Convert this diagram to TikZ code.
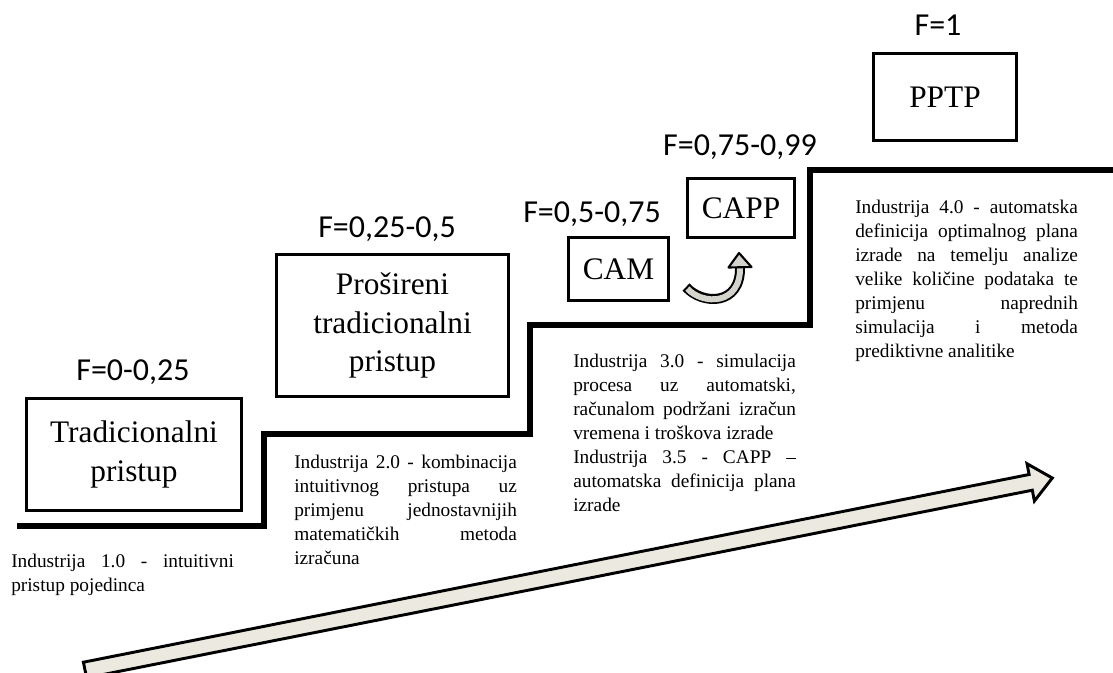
\documentclass[tikz,border=0pt]{standalone}
\usepackage{fontspec}
\setmainfont{Liberation Serif}
\newfontfamily\calib{Carlito}
\definecolor{arrowfill}{HTML}{ECEAE0}
\definecolor{curvefill}{HTML}{D4D4CC}
\begin{document}
\begin{tikzpicture}[x=0.75pt,y=-0.75pt,
  stairline/.style={line width=4.5pt},
  stagebox/.style={draw, line width=2.5pt, inner sep=0pt, align=center, font=\fontsize{23.5}{29}\selectfont},
  flabel/.style={font=\calib\fontsize{24}{28}\selectfont, anchor=base, inner sep=0pt},
  desc/.style={anchor=north west, inner sep=0pt, align=left, font=\fontsize{14.5}{18}\selectfont}]

\useasboundingbox (0,0) rectangle (1113,672);

% big rising arrow
\draw[line width=2.2pt, fill=arrowfill, line join=miter]
  (83.4,662.2) -- (1029.1,474.5) -- (1027.0,463.7) -- (1052.3,478.0)
  -- (1034.4,501.0) -- (1032.3,490.2) -- (86.6,677.8) -- cycle;

% staircase
\draw[stairline] (17,526) -- (264,526) -- (264,434) -- (530,434) -- (530,325)
  -- (810,325) -- (810,170) -- (1120,170);

% stage boxes
\node[stagebox, minimum width=161.25pt, minimum height=84pt] (trad) at (134,454.5) {Tradicionalni\\pristup};
\node[stagebox, minimum width=174pt, minimum height=106.5pt] (prosireni) at (392.5,325.5) {Prošireni\\tradicionalni\\pristup};
\node[stagebox, minimum width=75pt, minimum height=47.25pt] (cam) at (618.5,269) {CAM};
\node[stagebox, minimum width=80.25pt, minimum height=44.25pt] (capp) at (741,208) {CAPP};
\node[stagebox, minimum width=107.25pt, minimum height=65.25pt] (pptp) at (945,97) {PPTP};

% F labels
\node[flabel] (f1) at (133,380) {F=0-0,25};
\node[flabel] (f2) at (387,237) {F=0,25-0,5};
\node[flabel] (f3) at (592,222) {F=0,5-0,75};
\node[flabel] (f4) at (740,155) {F=0,75-0,99};
\node[flabel] (f5) at (938,35) {F=1};

% curved arrow CAM -> CAPP
\coordinate (cs) at (686,287);
\coordinate (ce) at (740,267);
\draw[line width=7.5pt] (cs) .. controls (702,305) and (741,306) .. (ce);
\draw[line width=4.5pt, curvefill, shorten <=1.6pt] (cs) .. controls (702,305) and (741,306) .. (ce);
\draw[line width=1.6pt, fill=curvefill, line join=round] (728.5,267.5) -- (739,253) -- (751.5,267) -- cycle;

% descriptions
\node[desc] (d1) at (11,549.67) {\rule{0pt}{13pt}\makebox[167pt][s]{Industrija 1.0 - intuitivni}\\pristup pojedinca};
\node[desc] (d2) at (294,450.67) {\rule{0pt}{13pt}\makebox[167pt][s]{Industrija 2.0 - kombinacija}\\
  \makebox[167pt][s]{intuitivnog pristupa uz}\\
  \makebox[167pt][s]{primjenu jednostavnijih}\\
  \makebox[167pt][s]{matematičkih metoda}\\
  izračuna};
\node[desc] (d3) at (573,349.67) {\rule{0pt}{13pt}\makebox[167pt][s]{Industrija 3.0 - simulacija}\\
  \makebox[167pt][s]{procesa uz automatski,}\\
  \makebox[167pt][s]{računalom podržani izračun}\\
  vremena i troškova izrade\\
  \makebox[167pt][s]{Industrija 3.5 - CAPP –}\\
  \makebox[167pt][s]{automatska definicija plana}\\
  izrade};
\node[desc] (d4) at (855,195.67) {\rule{0pt}{13pt}\makebox[167pt][s]{Industrija 4.0 - automatska}\\
  \makebox[167pt][s]{definicija optimalnog plana}\\
  \makebox[167pt][s]{izrade na temelju analize}\\
  \makebox[167pt][s]{velike količine podataka te}\\
  \makebox[167pt][s]{primjenu naprednih}\\
  \makebox[167pt][s]{simulacija i metoda}\\
  prediktivne analitike};
\end{tikzpicture}
\end{document}
